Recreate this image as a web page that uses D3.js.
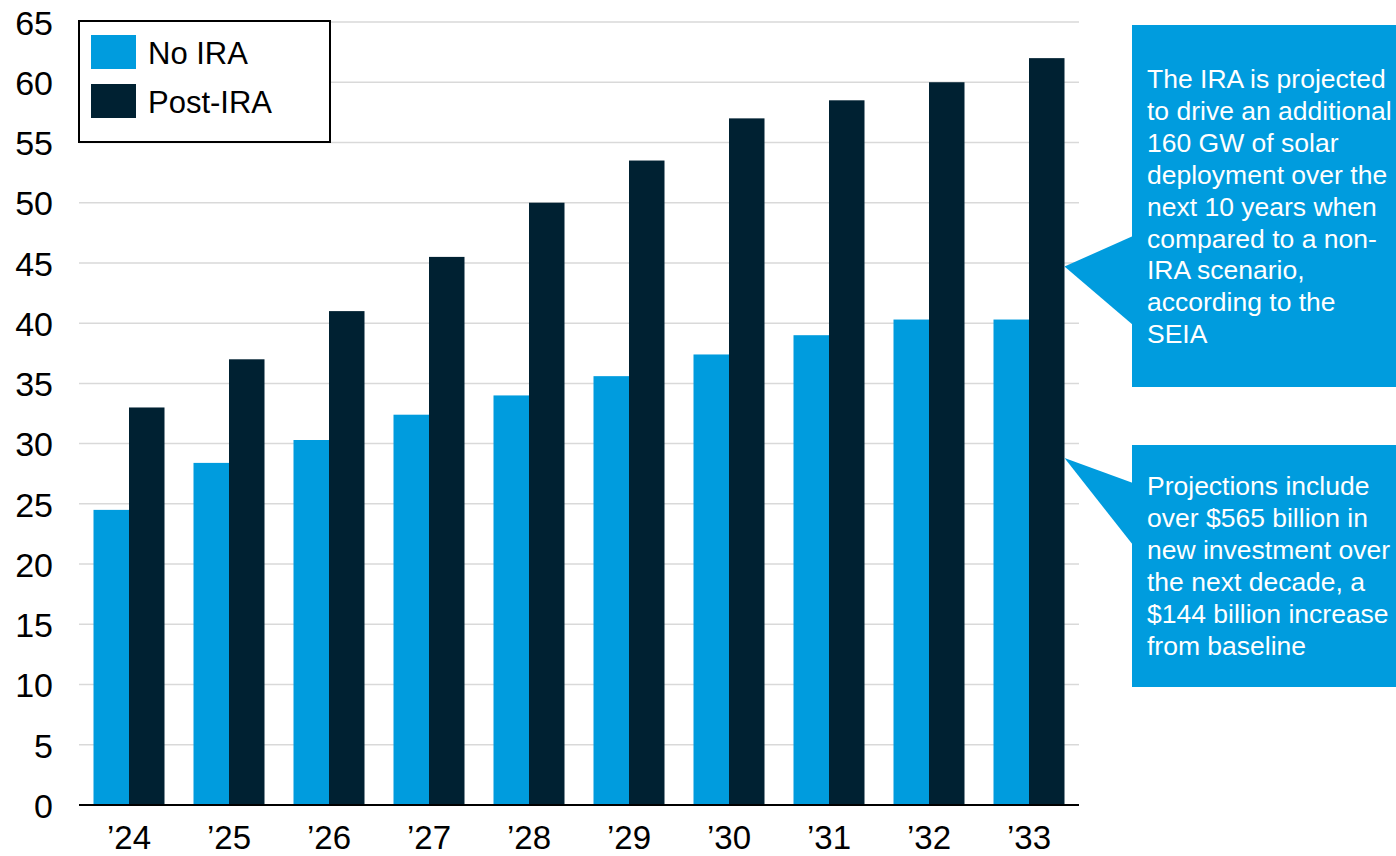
<!DOCTYPE html>
<html><head><meta charset="utf-8">
<script src="https://cdn.jsdelivr.net/npm/d3@7"></script>
<style>
html,body{margin:0;padding:0;background:#fff;}
svg{display:block;font-family:"Liberation Sans",Arial,sans-serif;}
</style></head>
<body>
<svg id="chart" width="1396" height="856"></svg>
<script>
const categories = ["\u201924","\u201925","\u201926","\u201927","\u201928","\u201929","\u201930","\u201931","\u201932","\u201933"];
const seriesNames = ["No IRA","Post-IRA"];
const noIRA   = [24.5, 28.4, 30.3, 32.4, 34.0, 35.6, 37.4, 39.0, 40.3, 40.3];
const postIRA = [33.0, 37.0, 41.0, 45.5, 50.0, 53.5, 57.0, 58.5, 60.0, 62.0];
const yTicks = [0,5,10,15,20,25,30,35,40,45,50,55,60,65];
const callout1 = ["The IRA is projected","to drive an additional","160 GW of solar","deployment over the","next 10 years when","compared to a non-","IRA scenario,","according to the","SEIA"];
const callout2 = ["Projections include","over $565 billion in","new investment over","the next decade, a","$144 billion increase","from baseline"];

const colors = ["#009CDE","#002132"];
const svg = d3.select("#chart");
const L = 79, R = 1079, T = 22, B = 805;

const y = d3.scaleLinear().domain([0,65]).range([B,T]);
const x0 = d3.scaleBand().domain(categories).range([L,R]).paddingInner(0.29).paddingOuter(0.145);
const x1 = d3.scaleBand().domain(seriesNames).range([0,x0.bandwidth()]);

// gridlines
svg.append("g").selectAll("line").data(yTicks.filter(d=>d>0)).join("line")
  .attr("x1",L).attr("x2",R).attr("y1",d=>y(d)).attr("y2",d=>y(d))
  .attr("stroke","#d9d9d9").attr("stroke-width",1.5);

// bars
const data = categories.map((c,i)=>({c, vals:[noIRA[i],postIRA[i]]}));
const g = svg.append("g").selectAll("g").data(data).join("g")
  .attr("transform",d=>`translate(${x0(d.c)},0)`);
g.selectAll("rect").data(d=>d.vals.map((v,j)=>({v,s:seriesNames[j],j}))).join("rect")
  .attr("x",d=>x1(d.s)).attr("width",x1.bandwidth())
  .attr("y",d=>y(d.v)).attr("height",d=>B-y(d.v))
  .attr("fill",d=>colors[d.j]);

// baseline
svg.append("line").attr("x1",L).attr("x2",R).attr("y1",B).attr("y2",B)
  .attr("stroke","#000").attr("stroke-width",2);

// y labels
const yAxis = d3.axisLeft(y).tickValues(yTicks).tickSize(0).tickPadding(0);
const ya = svg.append("g").attr("transform",`translate(53,0)`).call(yAxis);
ya.select(".domain").remove();
ya.selectAll("text").attr("font-size",34).attr("fill","#000")
  .attr("font-family","Liberation Sans, Arial, sans-serif").attr("dy","0.36em");

// x labels
const xAxis = d3.axisBottom(x0).tickSize(0).tickPadding(0);
const xa = svg.append("g").attr("transform",`translate(0,${B})`).call(xAxis);
xa.select(".domain").remove();
xa.selectAll("text").attr("font-size",33).attr("fill","#000")
  .attr("font-family","Liberation Sans, Arial, sans-serif").attr("dy",null).attr("y",44);

// legend
const lg = svg.append("g");
lg.append("rect").attr("x",79).attr("y",21).attr("width",251).attr("height",121)
  .attr("fill","#fff").attr("stroke","#000").attr("stroke-width",2);
seriesNames.forEach((s,i)=>{
  lg.append("rect").attr("x",91).attr("y",35+i*49).attr("width",45).attr("height",34).attr("fill",colors[i]);
  lg.append("text").attr("x",148).attr("y",64+i*49).attr("font-size",31).attr("fill","#000").text(s);
});

// callouts
const tipX = x0(categories[9]) + x0.bandwidth();
function callout(top, bottom, tipVal, b1, b2, lines, firstBase){
  const cg = svg.append("g");
  cg.append("rect").attr("x",1132).attr("y",top).attr("width",1396-1132).attr("height",bottom-top).attr("fill",colors[0]);
  cg.append("polygon").attr("points",`${tipX},${y(tipVal)} 1133,${b1} 1133,${b2}`).attr("fill",colors[0]);
  const t = cg.append("text").attr("font-size",26.5).attr("fill","#fff");
  lines.forEach((ln,i)=>t.append("tspan").attr("x",1147).attr("y",firstBase+i*31.9).text(ln));
}
callout(25, 387, 44.7, 236, 325, callout1, 88);
callout(445, 687, 28.8, 483, 545, callout2, 495);
</script>
</body></html>
